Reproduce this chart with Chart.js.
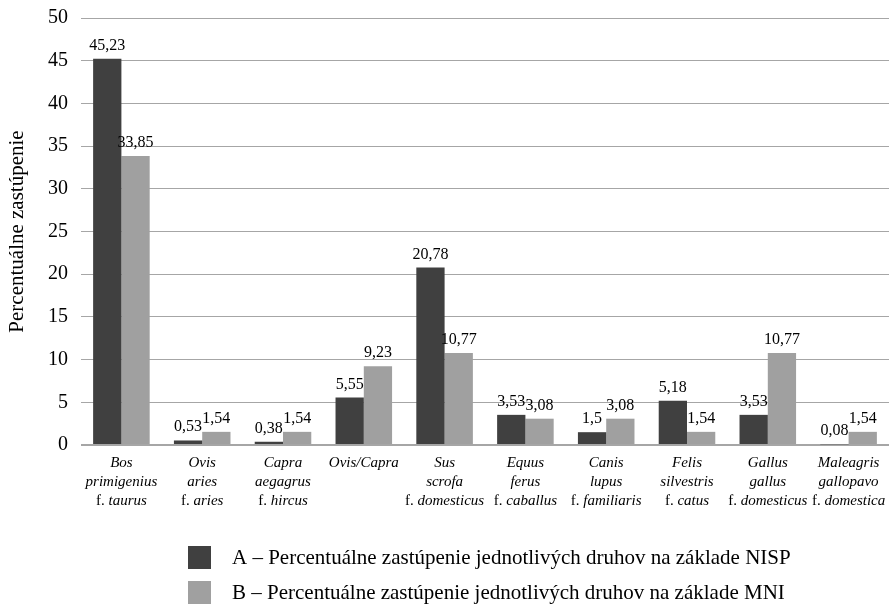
<!DOCTYPE html>
<html>
<head>
<meta charset="utf-8">
<script src="https://cdn.jsdelivr.net/npm/chart.js@4"></script>
<style>
  body { margin: 0; background: #fff; }
  #wrap { width: 891px; height: 607px; }
</style>
</head>
<body>
<div id="wrap"><canvas id="zooChart"></canvas></div>
<script>
// category names, one entry per line; "f. " prefix is drawn upright, the rest italic
const categories = [
    ['Bos', 'primigenius', 'f. taurus'],
    ['Ovis', 'aries', 'f. aries'],
    ['Capra', 'aegagrus', 'f. hircus'],
    ['Ovis/Capra'],
    ['Sus', 'scrofa', 'f. domesticus'],
    ['Equus', 'ferus', 'f. caballus'],
    ['Canis', 'lupus', 'f. familiaris'],
    ['Felis', 'silvestris', 'f. catus'],
    ['Gallus', 'gallus', 'f. domesticus'],
    ['Maleagris', 'gallopavo', 'f. domestica']
];
const nispValues = [45.23, 0.53, 0.38, 5.55, 20.78, 3.53, 1.5, 5.18, 3.53, 0.08];
const mniValues = [33.85, 1.54, 1.54, 9.23, 10.77, 3.08, 3.08, 1.54, 10.77, 1.54];
const seriesNames = [
    'A – Percentuálne zastúpenie jednotlivých druhov na základe NISP',
    'B – Percentuálne zastúpenie jednotlivých druhov na základe MNI'
];
const yTicks = [0, 5, 10, 15, 20, 25, 30, 35, 40, 45, 50];

const SERIF = '"Liberation Serif", "Times New Roman", serif';

const textPlugin = {
    id: 'textPlugin',
    afterDraw(chart) {
        const ctx = chart.ctx;
        const xScale = chart.scales.x;
        const area = chart.chartArea;
        ctx.save();
        ctx.fillStyle = '#000';

        // value labels above bars
        ctx.font = '16px ' + SERIF;
        ctx.textAlign = 'center';
        ctx.textBaseline = 'alphabetic';
        chart.data.datasets.forEach((ds, di) => {
            chart.getDatasetMeta(di).data.forEach((bar, i) => {
                const txt = String(ds.data[i]).replace('.', ',');
                ctx.fillText(txt, bar.x, bar.y - 9);
            });
        });

        // category labels
        categories.forEach((lines, i) => {
            const cx = xScale.getPixelForValue(i);
            lines.forEach((line, k) => {
                const y = area.bottom + 22 + k * 19;
                if (line.startsWith('f. ')) {
                    ctx.font = '15px ' + SERIF;
                    const w1 = ctx.measureText('f. ').width;
                    ctx.font = 'italic 15px ' + SERIF;
                    const rest = line.slice(3);
                    const w2 = ctx.measureText(rest).width;
                    const x0 = cx - (w1 + w2) / 2;
                    ctx.textAlign = 'left';
                    ctx.font = '15px ' + SERIF;
                    ctx.fillText('f. ', x0, y);
                    ctx.font = 'italic 15px ' + SERIF;
                    ctx.fillText(rest, x0 + w1, y);
                } else {
                    ctx.textAlign = 'center';
                    ctx.font = 'italic 15px ' + SERIF;
                    ctx.fillText(line, cx, y);
                }
            });
        });

        // legend
        ctx.textAlign = 'left';
        ctx.textBaseline = 'middle';
        ctx.font = '21px ' + SERIF;
        chart.data.datasets.forEach((ds, di) => {
            const cy = 557 + di * 35;
            ctx.fillStyle = ds.backgroundColor;
            ctx.fillRect(188, cy - 11, 23, 23);
            ctx.fillStyle = '#000';
            ctx.fillText(ds.label, 232, cy + 1);
        });
        ctx.restore();
    }
};

const chart = new Chart(document.getElementById('zooChart').getContext('2d'), {
    type: 'bar',
    data: {
        labels: categories.map(c => c.join(' ')),
        datasets: [
            {
                label: seriesNames[0],
                data: nispValues,
                backgroundColor: '#404040'
            },
            {
                label: seriesNames[1],
                data: mniValues,
                backgroundColor: '#a0a0a0'
            }
        ]
    },
    options: {
        responsive: true,
        maintainAspectRatio: false,
        animation: false,
        layout: {
            padding: { top: 18, right: 2, bottom: 162, left: 0 }
        },
        datasets: {
            bar: { categoryPercentage: 0.7, barPercentage: 1 }
        },
        plugins: {
            legend: { display: false },
            tooltip: { enabled: false }
        },
        scales: {
            x: {
                grid: { display: false },
                border: { display: false },
                ticks: { display: false },
                afterFit(scale) { scale.height = 0; }
            },
            y: {
                min: 0,
                max: 50,
                afterBuildTicks(scale) {
                    scale.ticks = yTicks.map(v => ({ value: v }));
                },
                afterFit(scale) {
                    scale.width = 81;
                    scale.paddingTop = 0;
                    scale.paddingBottom = 0;
                },
                border: { display: false },
                grid: {
                    color: '#a6a6a6',
                    lineWidth: c => (c.tick && c.tick.value === 0 ? 2 : 1),
                    drawTicks: false
                },
                ticks: {
                    padding: 13,
                    color: '#000',
                    font: { family: SERIF, size: 20 }
                },
                title: {
                    display: true,
                    text: 'Percentuálne zastúpenie',
                    color: '#000',
                    font: { family: SERIF, size: 21 },
                    padding: { top: 5, bottom: 0 }
                }
            }
        }
    },
    plugins: [textPlugin]
});
</script>
</body>
</html>
